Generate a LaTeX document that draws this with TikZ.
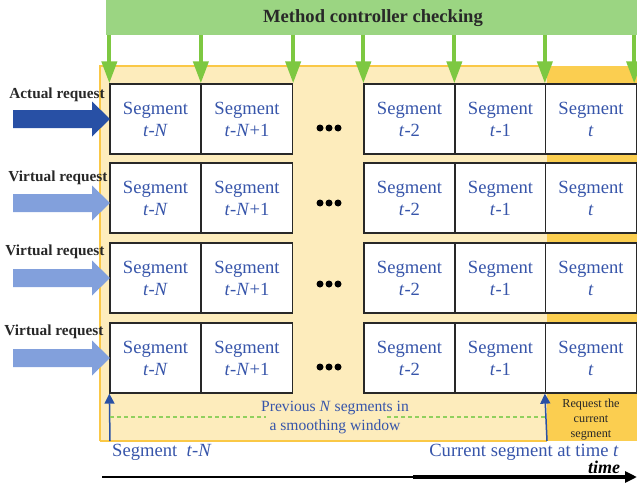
\documentclass[tikz,border=0pt]{standalone}
\usepackage{fontspec}
\setmainfont{Liberation Serif}
\usetikzlibrary{arrows.meta,calc}
\definecolor{lightyel}{RGB}{253,236,188}
\definecolor{darkyel}{RGB}{251,206,80}
\definecolor{orangeb}{RGB}{250,200,70}
\definecolor{greenbar}{RGB}{155,213,130}
\definecolor{greenarr}{RGB}{125,200,65}
\definecolor{txtblue}{RGB}{55,85,170}
\definecolor{darkarr}{RGB}{40,80,165}
\definecolor{lightarr}{RGB}{130,160,220}
\definecolor{darktxt}{RGB}{40,40,40}
\tikzset{
  segbox/.style={draw=darktxt, line width=1.3pt, fill=white, minimum width=91pt, minimum height=70pt, inner sep=0pt, align=center, text=txtblue, font=\fontsize{18.6}{22}\selectfont},
  garrow/.style={draw=greenarr, line width=4pt, -{Triangle[width=15pt,length=22pt]}},
  barrow/.style={draw=darkarr, line width=1.5pt, -{Triangle[width=10pt,length=10pt]}},
  reqarr/.pic={\path[pic actions] (-97,-9) -- (-18,-9) -- (-18,-17.5) -- (0,0) -- (-18,17.5) -- (-18,9) -- (-97,9) -- cycle;},
  reqlabel/.style={font=\fontsize{15.3}{17}\selectfont\bfseries, text=darktxt, inner sep=0pt},
  bluetxt/.style={text=txtblue, inner sep=0pt, align=center},
  dotc/.style={fill=black}
}
\begin{document}
\begin{tikzpicture}[x=1pt,y=-1pt]
\useasboundingbox (0,0) rectangle (637,487);
% backgrounds
\fill[lightyel] (100,66) rectangle (547,441);
\fill[darkyel] (547,66) rectangle (637,441);
\draw[orangeb, line width=1.2pt] (100,441) -- (100,66) -- (547,66);
\draw[orangeb, line width=1.5pt] (100,441) -- (547,441);
% green bar
\node[fill=greenbar, minimum width=531pt, minimum height=35pt, inner sep=0pt, anchor=north west] (bar) at (106,0) {};
\node[font=\fontsize{18.6}{20}\selectfont\bfseries, text=darktxt, inner sep=0pt] (title) at (373,18) {Method controller checking};
% segment boxes
\foreach \r/\y in {1/119,2/198,3/278,4/358}{
  \node[segbox] (r\r c1) at (155.5,\y) {Segment\\\textit{t}-\textit{N}};
  \node[segbox] (r\r c2) at (247,\y) {Segment\\\textit{t}-\textit{N}+1};
  \node[segbox] (r\r c4) at (409.5,\y) {Segment\\\textit{t}-2};
  \node[segbox] (r\r c5) at (500.5,\y) {Segment\\\textit{t}-1};
  \node[segbox] (r\r c6) at (591,\y) {Segment\\\textit{t}};
}
% dots
\foreach \y in {128,203,284,367}{
  \fill[dotc] (320,\y) circle (3.5);
  \fill[dotc] (329,\y) circle (3.5);
  \fill[dotc] (338,\y) circle (3.5);
}
% green arrows
\coordinate (g7) at ($(r1c6.north east)+(-3,0)$);
\foreach \t in {r1c1.north west, r1c2.north west, r1c2.north east, r1c4.north west, r1c5.north west, r1c6.north west, g7}{
  \draw[garrow] (bar.south -| \t) -- (\t);
}
% request arrows
\coordinate (t1) at (110,119);
\coordinate (t2) at (110,203);
\coordinate (t3) at (110,278);
\coordinate (t4) at (110,358);
\pic[fill=darkarr] at (t1) {reqarr};
\pic[fill=lightarr] at (t2) {reqarr};
\pic[fill=lightarr] at (t3) {reqarr};
\pic[fill=lightarr] at (t4) {reqarr};
\node[reqlabel] (l1) at (57,95) {Actual request};
\node[reqlabel] (l2) at (58,178) {Virtual request};
\node[reqlabel] (l3) at (55,252) {Virtual request};
\node[reqlabel] (l4) at (54,332) {Virtual request};
% bottom arrows
\coordinate (b1) at (110,441);
\coordinate (b2) at (547,441);
\draw[barrow] (b1) -- (r4c1.south west);
\draw[barrow] (b2) -- (r4c6.south west);
% dashed window line
\coordinate (d1) at (110,417);
\coordinate (d2) at (266,417);
\coordinate (d3) at (387,417);
\coordinate (d4) at (547,417);
\draw[greenarr!85!white, line width=1.5pt, dash pattern=on 4pt off 3pt] (d1) -- (d2);
\draw[greenarr!85!white, line width=1.5pt, dash pattern=on 4pt off 3pt] (d3) -- (d4);
\node[bluetxt, font=\fontsize{15.6}{19}\selectfont] (prev) at (335,418) {Previous \textit{N} segments in\\a smoothing window};
\node[text=darktxt, inner sep=0pt, align=center, font=\fontsize{12.2}{15}\selectfont] (reqcur) at (591,420) {Request the\\current\\segment};
% bottom labels
\node[bluetxt, font=\fontsize{18.6}{22}\selectfont, anchor=west] (segtn) at (112,452) {Segment~~\textit{t}-\textit{N}};
\node[bluetxt, font=\fontsize{18.6}{22}\selectfont] (cur) at (524,452) {Current segment at time \textit{t}};
\node[inner sep=0pt, font=\fontsize{18}{20}\selectfont\bfseries\itshape] (timelbl) at (604,467) {time};
% time axis
\coordinate (ax0) at (102,477);
\coordinate (ax1) at (413,477);
\coordinate (ax2) at (637,477);
\draw[line width=1.5pt] (ax0) -- (ax1);
\draw[line width=3.5pt, -{Triangle[width=11pt,length=12pt]}] (ax1) -- (ax2);
\end{tikzpicture}
\end{document}
